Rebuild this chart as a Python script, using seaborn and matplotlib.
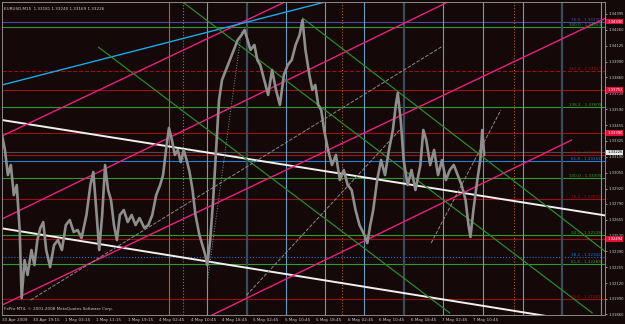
import numpy as np
import pandas as pd
import matplotlib
matplotlib.use("Agg")
import matplotlib.pyplot as plt
import seaborn as sns

# ---------------- data ----------------
header = "EURUSD,M15  1.33181 1.33240 1.33169 1.33226"
copyright_txt = "FxPro MT4, \u00a9 2001-2008 MetaQuotes Software Corp."

bars = [0, 3, 6, 9, 12, 15, 18, 20, 23, 26, 30, 33, 36, 39, 42, 45, 49, 53, 57, 61,
        65, 69, 73, 77, 81, 86, 90, 93, 96, 99, 102, 105, 108, 111, 114, 117, 120, 124,
        128, 132, 136, 140, 145, 149, 153, 157, 161, 164, 167, 170, 173, 176, 179, 182,
        185, 188, 191, 194, 197, 201, 204, 207, 209, 212, 215, 218, 221, 224, 228, 232,
        236, 240, 244, 247, 250, 253, 257, 260, 263, 267, 271, 275, 279, 283, 287, 291,
        295, 299, 303, 306, 309, 313, 316, 319, 322, 325, 328, 332, 336, 340, 344, 348,
        352, 356, 360, 364, 369, 372, 375, 378, 382, 386, 390, 394, 398, 401, 403, 406,
        409, 413, 417, 421, 426, 429, 432, 436, 440, 444, 448, 452, 456, 460, 464, 468,
        472, 475, 477, 480, 484, 487, 489, 491]
closes = [1.33373, 1.33246, 1.33034, 1.33119, 1.32865, 1.32950, 1.32570, 1.31995, 1.32316,
          1.32190, 1.32401, 1.32274, 1.32485, 1.32587, 1.32637, 1.32401, 1.32257, 1.32443,
          1.32485, 1.32401, 1.32612, 1.32654, 1.32553, 1.32570, 1.32502, 1.32697, 1.32950,
          1.33060, 1.32739, 1.32401, 1.32697, 1.33119, 1.32908, 1.32823, 1.32612, 1.32485,
          1.32697, 1.32739, 1.32637, 1.32697, 1.32612, 1.32671, 1.32587, 1.32612, 1.32697,
          1.32865, 1.32950, 1.33034, 1.33246, 1.33432, 1.33330, 1.33204, 1.33246, 1.33144,
          1.33246, 1.33161, 1.33060, 1.32908, 1.32697, 1.32528, 1.32443, 1.32359, 1.32274,
          1.32485, 1.32823, 1.33246, 1.33668, 1.33837, 1.33922, 1.34006, 1.34091, 1.34175,
          1.34218, 1.34260, 1.34175, 1.34091, 1.34133, 1.34006, 1.33964, 1.33837, 1.33711,
          1.33922, 1.33753, 1.33626, 1.33880, 1.33964, 1.34006, 1.34133, 1.34218, 1.34344,
          1.34091, 1.33880, 1.33753, 1.33795, 1.33626, 1.33584, 1.33415, 1.33246, 1.33119,
          1.33204, 1.32992, 1.33077, 1.32950, 1.32908, 1.32739, 1.32612, 1.32528, 1.32460,
          1.32612, 1.32739, 1.32992, 1.33161, 1.33034, 1.33246, 1.33415, 1.33626, 1.33727,
          1.33499, 1.33161, 1.32950, 1.33077, 1.32908, 1.33119, 1.33415, 1.33330, 1.33119,
          1.33246, 1.33034, 1.33161, 1.32992, 1.33077, 1.33119, 1.33034, 1.32950, 1.32823,
          1.32612, 1.32511, 1.32739, 1.32992, 1.33161, 1.33415, 1.33204]

# horizontal levels
level_prices = [1.34330, 1.34283, 1.33913, 1.33753, 1.33609, 1.33390, 1.33229, 1.33204,
                1.33153, 1.33009, 1.32832, 1.32528, 1.32494, 1.32342, 1.32283, 1.31987]
level_colors = ["#4a4aa8", "#2f9a2f", "#9a1010", "#9a1010", "#2f9a2f", "#9a1010", "#4a4a4a",
                "#9a1010", "#1e7fd8", "#2f9a2f", "#9a1010", "#2f9a2f", "#9a1010", "#1e6fcf",
                "#2f9a2f", "#9a1010"]
level_styles = ["-", "-", "--", "-", "-", "-", "-", "-", "-", "-", "-", "-", "-", ":", "-", "-"]
level_names = ["76.4", "100.0", "161.8", "", "138.2", "", "", "38.2", "61.8", "100.0", "76.4",
               "50.0", "", "38.2", "61.8", "61.8"]
red_box_prices = [1.34330, 1.33753, 1.33390, 1.32494]
current_price = 1.33226

# vertical lines (bar index)
vline_bars = [170, 184, 209, 249, 289, 329, 346, 369, 409, 449, 490, 521, 530, 570, 610]
vline_colors = ["#b0601a", "#1e8fff", "#6a9cc0", "#3a4c5a", "#6a9cc0", "#6a9cc0", "#b0601a",
                "#6a9cc0", "#3a4c5a", "#6a9cc0", "#6a9cc0", "#b0601a", "#6a9cc0", "#3a4c5a",
                "#6a9cc0"]
vline_styles = ["-", ":", "-", "-", "-", "-", ":", "-", "-", "-", "-", ":", "-", "-", "-"]
vline_widths = [0.8, 0.8, 0.8, 1.6, 0.8, 0.8, 0.8, 0.8, 1.6, 0.8, 0.8, 0.8, 0.8, 1.6, 0.8]

# trend lines: start bar, start price, end bar, end price
tl_b0 = [0, 0, 0, 0, 0, 214, 0, 98, 184, 306, 29, 209, 249, 437]
tl_p0 = [1.33499, 1.32584, 1.33364, 1.32663, 1.31936, 1.31852, 1.33795, 1.34116, 1.34496,
         1.34361, 1.31978, 1.32122, 1.32019, 1.32460]
tl_b1 = [615, 615, 288, 454, 615, 580, 329, 456, 601, 615, 449, 244, 405, 508]
tl_p1 = [1.32692, 1.31762, 1.34496, 1.34496, 1.34361, 1.33330, 1.34496, 1.31869, 1.31869,
         1.32384, 1.34125, 1.34260, 1.33415, 1.33584]
tl_colors = ["#f0f0f0", "#f0f0f0", "#e8207f", "#e8207f", "#e8207f", "#e8207f", "#1ea8e8",
             "#2a8a2a", "#2a8a2a", "#2a8a2a", "#8a8a8a", "#7a8aa0", "#8a8a8a", "#8a8a8a"]
tl_styles = ["-", "-", "-", "-", "-", "-", "-", "-", "-", "-", "--", ":", "--", "--"]
tl_widths = [1.4, 1.4, 1.0, 1.0, 1.0, 1.0, 1.0, 0.9, 0.9, 0.9, 0.7, 0.7, 0.7, 0.7]

time_labels = ["30 Apr 2009", "30 Apr 19:15", "1 May 03:15", "1 May 11:15", "1 May 19:15",
               "4 May 02:45", "4 May 10:45", "4 May 18:45", "5 May 02:45", "5 May 10:45",
               "5 May 18:45", "6 May 02:45", "6 May 10:45", "6 May 18:45", "7 May 02:45",
               "7 May 10:45"]
time_tick_bars = [0, 32, 64, 96, 128, 160, 192, 224, 256, 288, 320, 352, 384, 416, 448, 480]
price_tick_labels = ["1.31860", "1.31990", "1.32120", "1.32255", "1.32390", "1.32520",
                     "1.32655", "1.32790", "1.32920", "1.33055", "1.33190", "1.33325",
                     "1.33455", "1.33590", "1.33725", "1.33860", "1.33990", "1.34125",
                     "1.34260", "1.34395"]

# ---------------- style ----------------
BG = "#150808"
sns.set_theme(style="dark", rc={"axes.facecolor": BG, "figure.facecolor": BG,
                                 "axes.grid": False})
plt.rcParams["font.family"] = ["DejaVu Sans"]
FS = 3.0
FSY = 2.7
TXT = "#c8c8c8"

fig = plt.figure(figsize=(6.25, 3.24), dpi=100)
ax = fig.add_axes([2 / 625, 9 / 324, 603 / 625, 313 / 324])
ax.set_facecolor(BG)

for p, c, s in zip(level_prices, level_colors, level_styles):
    ax.axhline(p, color=c, ls=s, lw=0.8, zorder=1)

for b, c, s, w in zip(vline_bars, vline_colors, vline_styles, vline_widths):
    ax.axvline(b, color=c, ls=s, lw=w, zorder=1)

for b0, p0, b1, p1, c, s, w in zip(tl_b0, tl_p0, tl_b1, tl_p1, tl_colors, tl_styles, tl_widths):
    ax.plot([b0, b1], [p0, p1], color=c, ls=s, lw=w, zorder=2)

df = pd.DataFrame({"bar": bars, "close": closes})
sns.lineplot(data=df, x="bar", y="close", ax=ax, color="#8e8e8e", lw=1.9,
             estimator=None, sort=False, zorder=3)

for p, c, n in zip(level_prices, level_colors, level_names):
    if n:
        ax.text(610, p, f"{n} - {p:.5f}", color=c, fontsize=FS, ha="right",
                va="bottom", zorder=4)

ax.set_xlim(0, 614)
ax.set_ylim(1.31852, 1.34496)

ax.yaxis.tick_right()
ax.set_yticks([float(t) for t in price_tick_labels])
ax.set_yticklabels(price_tick_labels)
ax.set_xticks(time_tick_bars)
ax.set_xticklabels(time_labels, ha="left")
ax.tick_params(axis="y", colors=TXT, labelsize=FSY, length=1.5, width=0.5, pad=0.8,
               direction="out")
ax.tick_params(axis="x", colors=TXT, labelsize=FS, length=2, width=0.5, pad=0.5,
               direction="out")
ax.set_xlabel("")
ax.set_ylabel("")
for sp in ax.spines.values():
    sp.set_color("#8a8a8a")
    sp.set_linewidth(0.7)

ytr = ax.get_yaxis_transform()
for p in red_box_prices:
    ax.text(1.0035, p, f"{p:.5f}", transform=ytr, fontsize=FSY, color="white",
            ha="left", va="center", zorder=5,
            bbox=dict(boxstyle="square,pad=0.2", fc="#e0103a", ec="none"))
ax.text(1.0035, current_price, f"{current_price:.5f}", transform=ytr, fontsize=FSY,
        color="black", ha="left", va="center", zorder=5,
        bbox=dict(boxstyle="square,pad=0.2", fc="#e8e8e8", ec="none"))

ax.text(0.004, 0.985, header, transform=ax.transAxes, fontsize=FS, color=TXT,
        ha="left", va="top")
ax.text(0.004, 0.012, copyright_txt, transform=ax.transAxes, fontsize=FS, color=TXT,
        ha="left", va="bottom")

fig.savefig("out.png", dpi=100, facecolor=BG)
